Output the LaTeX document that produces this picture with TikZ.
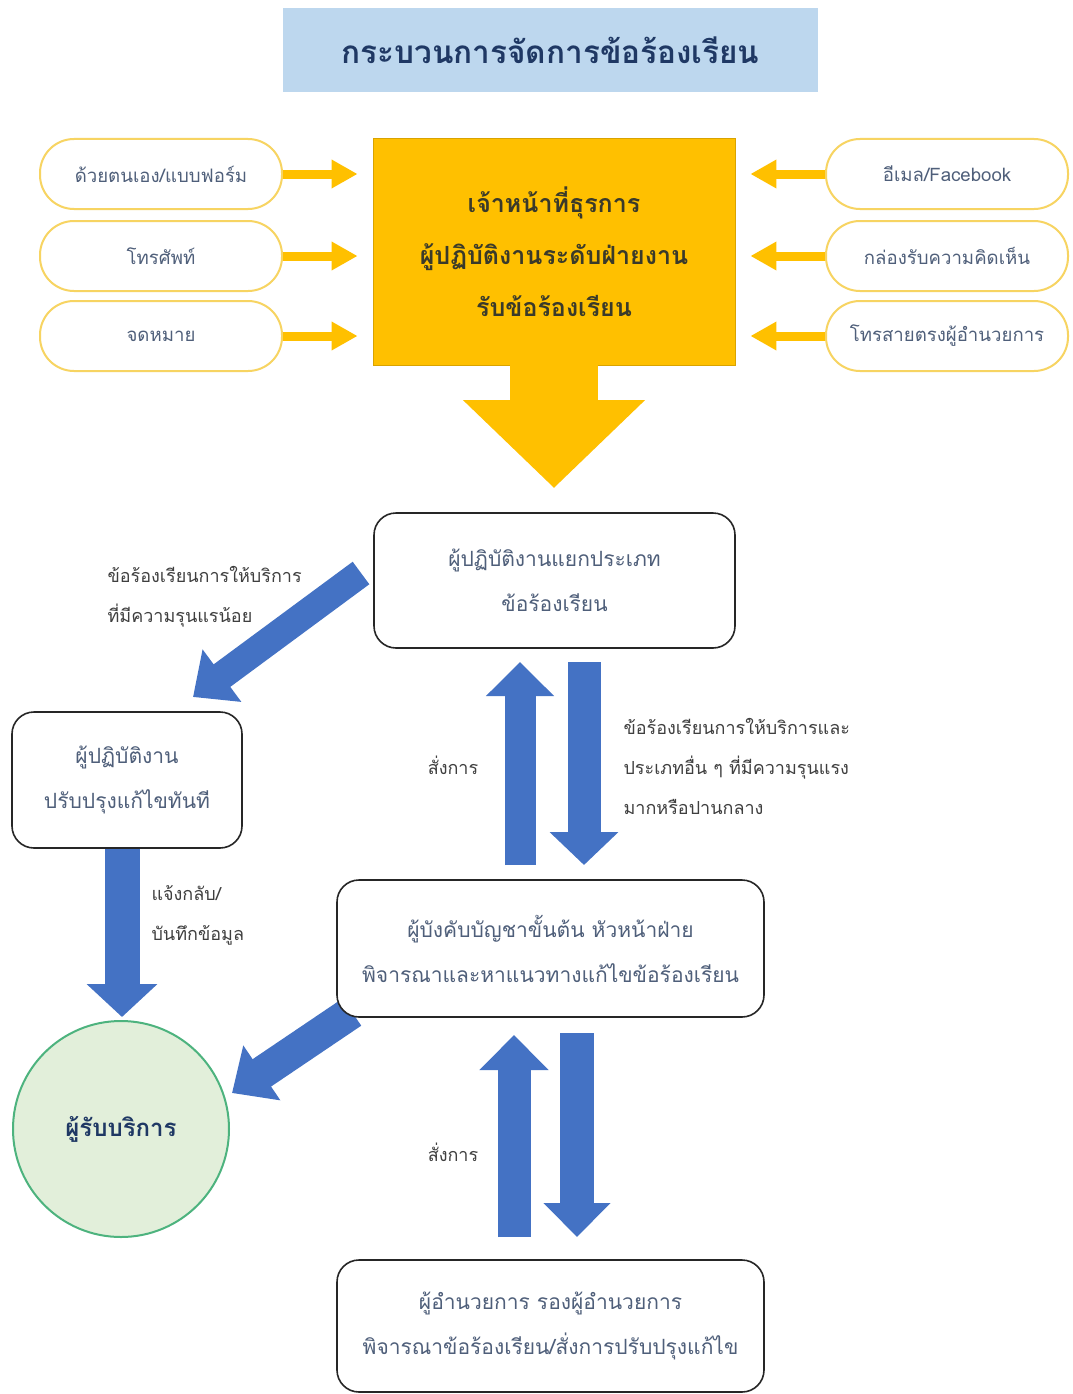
\documentclass[tikz,border=0pt]{standalone}
\usepackage{fontspec}
\newfontfamily\thai[Script=Thai]{Loma}
\usetikzlibrary{arrows.meta}
\definecolor{titlebg}{HTML}{BDD7EE}
\definecolor{titlefg}{HTML}{1F3864}
\definecolor{gold}{HTML}{FFC000}
\definecolor{goldline}{HTML}{D9A300}
\definecolor{pillline}{HTML}{F7D462}
\definecolor{boxtext}{HTML}{4F5F7A}
\definecolor{labeltext}{HTML}{3F3F3F}
\definecolor{arrowblue}{HTML}{4472C4}
\definecolor{circfill}{HTML}{E2EFDA}
\definecolor{circline}{HTML}{4DB37E}
\definecolor{cboxtext}{HTML}{3A3A2A}
\begin{document}
\begin{tikzpicture}[x=1pt,y=-1pt,
  pill/.style={draw=pillline, line width=2pt, fill=white, rounded corners=34pt,
    minimum width=242pt, minimum height=70pt, text=boxtext,
    font=\thai\fontsize{18.6}{22}\selectfont},
  rbox/.style={draw=black!85, line width=1.6pt, fill=white, rounded corners=22pt,
    align=center, text=boxtext, font=\thai\fontsize{21}{45}\selectfont},
  lbl/.style={align=left, text=labeltext, font=\thai\fontsize{18}{40}\selectfont},
  yarrow/.style={draw=gold, line width=9pt, -{Triangle[length=26pt,width=27pt]}, shorten >=15pt},
  barrow/.style={draw=arrowblue, line width=#1, line cap=butt},
]
\useasboundingbox (0,0) rectangle (1072,1394);
\fill[white] (0,0) rectangle (1072,1394);

% title
\node[fill=titlebg, minimum width=535pt, minimum height=84pt, text=titlefg,
  font=\thai\bfseries\fontsize{31.5}{36}\selectfont] (title) at (550.5,50) {กระบวนการจัดการข้อร้องเรียน};

% central box
\node[fill=gold, draw=goldline, line width=0.8pt, minimum width=362pt, minimum height=227pt,
  align=center, text=cboxtext, font=\thai\bfseries\fontsize{25}{52}\selectfont] (cbox) at (554,251.5)
  {เจ้าหน้าที่ธุรการ\\ผู้ปฏิบัติงานระดับฝ่ายงาน\\รับข้อร้องเรียน};

% pills left
\node[pill] (pl1) at (161,174) {ด้วยตนเอง/แบบฟอร์ม};
\node[pill] (pl2) at (161,256) {โทรศัพท์};
\node[pill] (pl3) at (161,336) {จดหมาย};
% pills right
\node[pill] (pr1) at (947,174) {อีเมล/Facebook};
\node[pill] (pr2) at (947,256) {กล่องรับความคิดเห็น};
\node[pill] (pr3) at (947,336) {โทรสายตรงผู้อำนวยการ};

\draw[yarrow] (pl1.east) -- (pl1.east -| cbox.west);
\draw[yarrow] (pl2.east) -- (pl2.east -| cbox.west);
\draw[yarrow] (pl3.east) -- (pl3.east -| cbox.west);
\draw[yarrow] (pr1.west) -- (pr1.west -| cbox.east);
\draw[yarrow] (pr2.west) -- (pr2.west -| cbox.east);
\draw[yarrow] (pr3.west) -- (pr3.west -| cbox.east);

% big down arrow
\coordinate (bigtip) at (554,488);
\draw[draw=gold, line width=88pt, -{Triangle[length=88pt,width=177pt]}] (cbox.south) -- (bigtip);

% blue diagonal arrow behind the head box
\coordinate (a5s) at (352,1012);
\coordinate (a5e) at (232,1093);
\draw[barrow=33pt, -{Triangle[length=36pt,width=64pt]}] (a5s) -- (a5e);

% process boxes
\node[rbox, minimum width=361pt, minimum height=135pt] (sort) at (554.5,580.5)
  {ผู้ปฏิบัติงานแยกประเภท\\ข้อร้องเรียน};
\node[rbox, minimum width=230pt, minimum height=136pt] (fix) at (127,780)
  {ผู้ปฏิบัติงาน\\ปรับปรุงแก้ไขทันที};
\node[rbox, minimum width=427pt, minimum height=137pt] (head) at (550.5,948.5)
  {ผู้บังคับบัญชาขั้นต้น หัวหน้าฝ่าย\\พิจารณาและหาแนวทางแก้ไขข้อร้องเรียน};
\node[rbox, minimum width=427pt, minimum height=132pt] (dir) at (550.5,1326)
  {ผู้อำนวยการ รองผู้อำนวยการ\\พิจารณาข้อร้องเรียน/สั่งการปรับปรุงแก้ไข};

% customer circle
\node[circle, draw=circline, line width=2pt, fill=circfill, minimum size=216pt,
  text=titlefg, font=\thai\bfseries\fontsize{24}{28}\selectfont] (cust) at (121,1129) {ผู้รับบริการ};

% blue arrows
\coordinate (a1s) at (361,573);
\coordinate (a1e) at (193,697);
\draw[barrow=28pt, -{Triangle[length=36pt,width=63pt]}] (a1s) -- (a1e);

\coordinate (a2e) at (122,1017);
\draw[barrow=35pt, -{Triangle[length=33pt,width=69pt]}] (fix.south -| a2e) -- (a2e);

\coordinate (a3s) at (520,865);
\coordinate (a3e) at (520,662);
\draw[barrow=31pt, -{Triangle[length=34pt,width=66pt]}] (a3s) -- (a3e);

\coordinate (a4s) at (584,662);
\coordinate (a4e) at (584,865);
\draw[barrow=33pt, -{Triangle[length=33pt,width=67pt]}] (a4s) -- (a4e);

\coordinate (a6s) at (514,1237);
\coordinate (a6e) at (514,1035);
\draw[barrow=33pt, -{Triangle[length=35pt,width=67pt]}] (a6s) -- (a6e);

\coordinate (a7s) at (577,1033);
\coordinate (a7e) at (577,1237);
\draw[barrow=34pt, -{Triangle[length=34pt,width=65pt]}] (a7s) -- (a7e);

% labels
\node[lbl, anchor=west] (l1) at (104,597) {ข้อร้องเรียนการให้บริการ\\ที่มีความรุนแรน้อย};
\node[lbl, anchor=west] (l2) at (148,915) {แจ้งกลับ/\\บันทึกข้อมูล};
\node[lbl] (l3) at (453,765) {สั่งการ};
\node[lbl, anchor=west] (l4) at (620,766) {ข้อร้องเรียนการให้บริการและ\\ประเภทอื่น ๆ ที่มีความรุนแรง\\มากหรือปานกลาง};
\node[lbl] (l5) at (453,1152) {สั่งการ};
\end{tikzpicture}
\end{document}
